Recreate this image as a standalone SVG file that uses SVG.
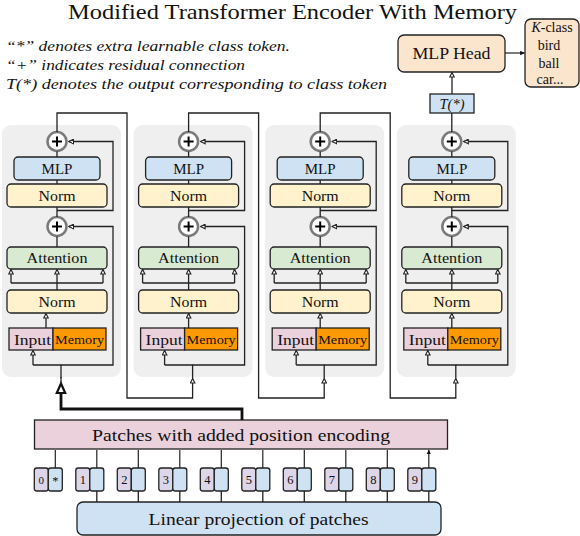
<svg xmlns="http://www.w3.org/2000/svg" width="580" height="536" viewBox="0 0 580 536" font-family="'Liberation Serif', 'Times New Roman', serif">
<style>
text{font-family:"Liberation Serif","Times New Roman",serif;fill:#111}
.bg{fill:#efefef}
.bx{stroke:#222;stroke-width:1.3}
.mlp{fill:#cfe2f3}
.norm{fill:#fff2cc}
.att{fill:#d9ead3}
.inp{fill:#ead1dc}
.mem{fill:#ff9900}
.peach{fill:#fce5cd}
.tokp{fill:#ddd5e8}
.plus{fill:#fff;stroke:#7a7a7a;stroke-width:2.5}
.ps{stroke:#000;stroke-width:2;fill:none}
.ln{fill:none;stroke:#222;stroke-width:1.3}
.ar{fill:none;stroke:#222;stroke-width:1.3;marker-end:url(#oa)}
.fa{fill:none;stroke:#222;stroke-width:1.2;marker-end:url(#fa)}
.t15{font-size:15px;text-anchor:middle}
.it{font-style:italic;font-size:15.5px}
</style>
<defs>
<marker id="oa" viewBox="0 0 8 8" refX="7" refY="4" markerWidth="6" markerHeight="6" markerUnits="userSpaceOnUse" orient="auto">
<path d="M1,1 L7,4 L1,7 Z" fill="#fff" stroke="#222" stroke-width="1.5"/>
</marker>
<marker id="fa" viewBox="0 0 8 8" refX="7" refY="4" markerWidth="5" markerHeight="5" markerUnits="userSpaceOnUse" orient="auto">
<path d="M0,0.5 L8,4 L0,7.5 Z" fill="#111"/>
</marker>
<g id="blk" font-family="'Liberation Serif', 'Times New Roman', serif">
<rect class="bg" x="0" y="125" width="119" height="252" rx="9"/>
<rect class="bx mlp" x="12" y="157" width="86" height="23" rx="4"/>
<text class="t15" x="55" y="173.5" font-size="15" text-anchor="middle">MLP</text>
<rect class="bx norm" x="5" y="184" width="100" height="23" rx="4"/>
<text class="t15" x="55" y="200.5" font-size="15" text-anchor="middle" textLength="37" lengthAdjust="spacingAndGlyphs">Norm</text>
<rect class="bx att" x="5" y="247" width="100" height="22" rx="4"/>
<text class="t15" x="55" y="263" font-size="15" text-anchor="middle" textLength="61" lengthAdjust="spacingAndGlyphs">Attention</text>
<rect class="bx norm" x="5" y="290" width="100" height="23" rx="4"/>
<text class="t15" x="55" y="306.5" font-size="15" text-anchor="middle" textLength="37" lengthAdjust="spacingAndGlyphs">Norm</text>
<rect class="bx inp" x="7" y="328" width="44" height="22"/>
<rect class="bx mem" x="51" y="328" width="53" height="22"/>
<text x="12" y="344.5" font-size="15.5" textLength="37" lengthAdjust="spacingAndGlyphs">Input</text>
<text x="77.5" y="343.5" font-size="13" text-anchor="middle" textLength="49" lengthAdjust="spacingAndGlyphs">Memory</text>
<circle class="plus" cx="55" cy="141.5" r="9.5"/>
<path class="ps" d="M50,141.5 H60 M55,136.5 V146.5"/>
<circle class="plus" cx="55" cy="226.5" r="9.5"/>
<path class="ps" d="M50,226.5 H60 M55,221.5 V231.5"/>
</g>
<g id="blkc">
<path class="ln" d="M55,157 V151.5 M55,184 V180 M55,207 V217 M55,247 V236.5"/>
<path class="ar" d="M55,290 V269.5"/>
<path class="ln" d="M9,283 H101"/>
<path class="ar" d="M9,283 V269.5"/>
<path class="ar" d="M101,283 V269.5"/>
<path class="ln" d="M59,378 V365 H31"/>
<path class="ar" d="M31,365 V350.5"/>
<path class="ar" d="M59,365 H111 V226.5 H67"/>
<path class="ar" d="M55,210.5 H111 V141.5 H67"/>
</g>
</defs>

<text x="292.5" y="19" font-size="21" text-anchor="middle" textLength="449" lengthAdjust="spacingAndGlyphs">Modified Transformer Encoder With Memory</text>
<text class="it" x="6" y="51" font-style="italic" font-size="15.5" textLength="284" lengthAdjust="spacingAndGlyphs">“*” denotes extra learnable class token.</text>
<text class="it" x="6" y="70" font-style="italic" font-size="15.5" textLength="239" lengthAdjust="spacingAndGlyphs">“+” indicates residual connection</text>
<text class="it" x="6" y="89" font-style="italic" font-size="15.5" textLength="381" lengthAdjust="spacingAndGlyphs">T(*) denotes the output corresponding to class token</text>

<g id="block1" transform="translate(2,0)"><use href="#blk"/></g>
<g id="block2" transform="translate(133.6,0)"><use href="#blk"/></g>
<g id="block3" transform="translate(265.2,0)"><use href="#blk"/></g>
<g id="block4" transform="translate(396.8,0)"><use href="#blk"/></g>

<g id="mlp-head">
<rect class="bx peach" x="398" y="35" width="107" height="37" rx="6"/>
<text x="451.5" y="59" font-size="17" text-anchor="middle" textLength="78" lengthAdjust="spacingAndGlyphs">MLP Head</text>
</g>
<g id="k-class">
<rect class="bx peach" x="525" y="19" width="54" height="68" rx="6"/>
<text x="552" y="32" font-size="14" text-anchor="middle"><tspan font-style="italic">K</tspan>-class</text>
<text x="549" y="50" font-size="14" text-anchor="middle">bird</text>
<text x="549" y="67.5" font-size="14" text-anchor="middle">ball</text>
<text x="550" y="84" font-size="14" text-anchor="middle">car...</text>
</g>
<g id="t-star">
<rect class="bx mlp" x="430" y="94" width="44" height="19"/>
<text x="452" y="108.5" font-size="14.5" font-style="italic" text-anchor="middle">T(*)</text>
</g>

<g id="patches">
<rect class="bx inp" x="34.5" y="420" width="413" height="29"/>
<text x="241" y="441" font-size="17" text-anchor="middle" textLength="298" lengthAdjust="spacingAndGlyphs">Patches with added position encoding</text>
</g>
<g id="linear">
<rect class="bx mlp" x="77" y="502" width="364" height="33" rx="6"/>
<text x="258.5" y="525" font-size="17" text-anchor="middle" textLength="220" lengthAdjust="spacingAndGlyphs">Linear projection of patches</text>
</g>

<g id="tokens" font-size="12.5">
<g id="tok0"><rect class="bx tokp" x="34.3" y="468" width="14" height="23" rx="2.5"/><rect class="bx mlp" x="48.3" y="468" width="14" height="23" rx="2.5"/><text x="41.3" y="484" text-anchor="middle" font-size="11">0</text><text x="55.3" y="485" text-anchor="middle" font-size="12.5">*</text></g>
<g id="tok1"><rect class="bx tokp" x="75.8" y="468" width="14" height="23" rx="2.5"/><rect class="bx mlp" x="89.8" y="468" width="14" height="23" rx="2.5"/><text x="82.8" y="484" text-anchor="middle">1</text></g>
<g id="tok2"><rect class="bx tokp" x="117.3" y="468" width="14" height="23" rx="2.5"/><rect class="bx mlp" x="131.3" y="468" width="14" height="23" rx="2.5"/><text x="124.3" y="484" text-anchor="middle">2</text></g>
<g id="tok3"><rect class="bx tokp" x="158.8" y="468" width="14" height="23" rx="2.5"/><rect class="bx mlp" x="172.8" y="468" width="14" height="23" rx="2.5"/><text x="165.8" y="484" text-anchor="middle">3</text></g>
<g id="tok4"><rect class="bx tokp" x="200.3" y="468" width="14" height="23" rx="2.5"/><rect class="bx mlp" x="214.3" y="468" width="14" height="23" rx="2.5"/><text x="207.3" y="484" text-anchor="middle">4</text></g>
<g id="tok5"><rect class="bx tokp" x="241.8" y="468" width="14" height="23" rx="2.5"/><rect class="bx mlp" x="255.8" y="468" width="14" height="23" rx="2.5"/><text x="248.8" y="484" text-anchor="middle">5</text></g>
<g id="tok6"><rect class="bx tokp" x="283.3" y="468" width="14" height="23" rx="2.5"/><rect class="bx mlp" x="297.3" y="468" width="14" height="23" rx="2.5"/><text x="290.3" y="484" text-anchor="middle">6</text></g>
<g id="tok7"><rect class="bx tokp" x="324.8" y="468" width="14" height="23" rx="2.5"/><rect class="bx mlp" x="338.8" y="468" width="14" height="23" rx="2.5"/><text x="331.8" y="484" text-anchor="middle">7</text></g>
<g id="tok8"><rect class="bx tokp" x="366.3" y="468" width="14" height="23" rx="2.5"/><rect class="bx mlp" x="380.3" y="468" width="14" height="23" rx="2.5"/><text x="373.3" y="484" text-anchor="middle">8</text></g>
<g id="tok9"><rect class="bx tokp" x="407.8" y="468" width="14" height="23" rx="2.5"/><rect class="bx mlp" x="421.8" y="468" width="14" height="23" rx="2.5"/><text x="414.8" y="484" text-anchor="middle">9</text></g>
</g>

<g id="connectors">
<use href="#blkc" transform="translate(2,0)"/>
<use href="#blkc" transform="translate(133.6,0)"/>
<use href="#blkc" transform="translate(265.2,0)"/>
<use href="#blkc" transform="translate(396.8,0)"/>
<path class="ar" d="M46,328 V313.5"/>
<path class="ar" d="M188.6,328 V313.5"/>
<path class="ar" d="M320.2,328 V313.5"/>
<path class="ar" d="M451.8,328 V313.5"/>
<path class="ar" d="M57,132 V113 H127 V398 H192.6 V378.5"/>
<path class="ar" d="M188.6,132 V113 H258.6 V398 H324.2 V378.5"/>
<path class="ar" d="M320.2,132 V113 H390.2 V398 H455.8 V378.5"/>
<path class="ln" d="M451.8,132 V113"/>
<path class="ar" d="M452,94 V72.5"/>
<path class="fa" d="M505,53 H524.5"/>
<path d="M242,420 V409 H61 V393" fill="none" stroke="#111" stroke-width="2.8"/>
<path d="M61,383.5 L56.8,393 L65.2,393 Z" fill="#fff" stroke="#111" stroke-width="2.2" stroke-linejoin="miter"/>
<path class="ln" d="M61,383.5 V377"/>
<path class="fa" d="M55.3,468 V450 M96.8,468 V450 M138.3,468 V450 M179.8,468 V450 M221.3,468 V450 M262.8,468 V450 M304.3,468 V450 M345.8,468 V450 M387.3,468 V450 M428.8,468 V450"/>
<path class="ln" d="M96.8,502 V491 M138.3,502 V491 M179.8,502 V491 M221.3,502 V491 M262.8,502 V491 M304.3,502 V491 M345.8,502 V491 M387.3,502 V491 M428.8,502 V491"/>
</g>
</svg>
